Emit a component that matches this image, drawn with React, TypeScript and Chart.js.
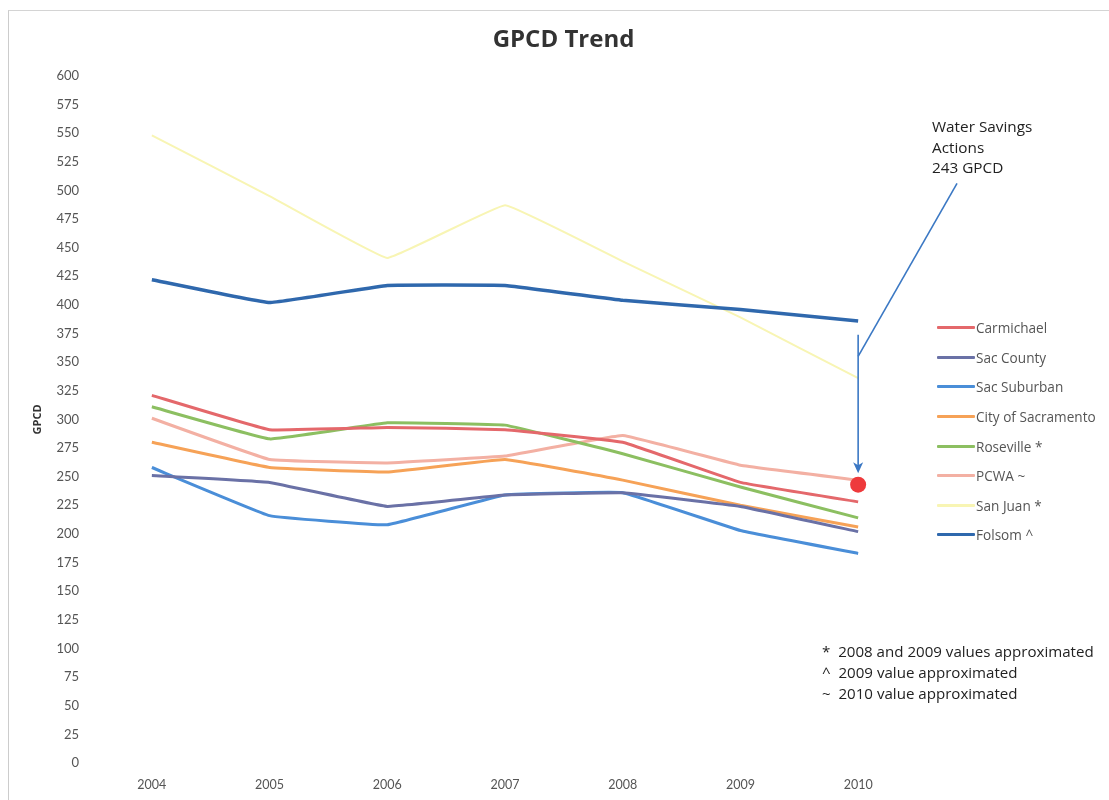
import React, { useEffect, useRef } from "react";
import { Chart, registerables } from "chart.js";

Chart.register(...registerables);

const years = ["2004", "2005", "2006", "2007", "2008", "2009", "2010"];

const carmichael = [321, 291, 293, 291, 280, 245, 228];
const sacCounty = [251, 245, 224, 234, 236, 224, 202];
const sacSuburban = [258, 216, 208, 234, 236, 203, 183];
const cityOfSacramento = [280, 258, 254, 265, 247, 225, 206];
const roseville = [311, 283, 297, 295, 270, 241, 214];
const pcwa = [301, 265, 262, 268, 286, 260, 247];
const sanJuan = [548, 495, 441, 487, 438, 389, 336];
const folsom = [422, 402, 417, 417, 404, 396, 386];

const targetValue = 243;
const targetIndex = 6;

const seriesNames = [
  "Carmichael",
  "Sac County",
  "Sac Suburban",
  "City of Sacramento",
  "Roseville *",
  "PCWA ~",
  "San Juan *",
  "Folsom ^",
];
const seriesData = [carmichael, sacCounty, sacSuburban, cityOfSacramento, roseville, pcwa, sanJuan, folsom];
const seriesColors = ["#e4686b", "#6a71a6", "#4a8ed8", "#f6a257", "#8cbf61", "#f3b0a3", "#f8f5b4", "#2f68ad"];
const seriesWidths = [3, 3, 3, 3, 3, 3, 2, 3.5];

const yTicksMin = 0;
const yTicksMax = 600;
const yTicksStep = 25;

const annotationLines = ["Water Savings", "Actions", "243 GPCD"];
const footnotes = [
  "*  2008 and 2009 values approximated",
  "^  2009 value approximated",
  "~  2010 value approximated",
];

// annotation arrow anchors (in data units)
const arrowTopValue = 374;
const arrowTipValue = 253;
const elbowValue = 355;
const diagTopValue = 506;
const diagTopIndex = 6.84;

const arrowPlugin = {
  id: "arrowPlugin",
  afterDatasetsDraw(chart: any) {
    const { ctx, scales } = chart;
    const xs = scales.x;
    const ys = scales.y;
    const x = xs.getPixelForValue(targetIndex);
    const yTop = ys.getPixelForValue(arrowTopValue);
    const yTip = ys.getPixelForValue(arrowTipValue);
    const yElbow = ys.getPixelForValue(elbowValue);
    const xD = xs.getPixelForValue(diagTopIndex);
    const yD = ys.getPixelForValue(diagTopValue);
    ctx.save();
    ctx.strokeStyle = "#3b78c4";
    ctx.fillStyle = "#3b78c4";
    ctx.lineWidth = 1.6;
    ctx.beginPath();
    ctx.moveTo(x, yTop);
    ctx.lineTo(x, yTip - 6);
    ctx.stroke();
    ctx.beginPath();
    ctx.moveTo(xD, yD);
    ctx.lineTo(x, yElbow);
    ctx.stroke();
    ctx.beginPath();
    ctx.moveTo(x, yTip);
    ctx.lineTo(x - 5, yTip - 11);
    ctx.lineTo(x, yTip - 8);
    ctx.lineTo(x + 5, yTip - 11);
    ctx.closePath();
    ctx.fill();
    ctx.restore();
  },
};

export default function App() {
  const ref = useRef<HTMLCanvasElement>(null);

  useEffect(() => {
    if (!ref.current) return;
    const datasets: any[] = seriesNames.map((name, i) => ({
      label: name,
      data: seriesData[i],
      borderColor: seriesColors[i],
      backgroundColor: seriesColors[i],
      borderWidth: seriesWidths[i],
      pointRadius: 0,
      tension: 0.07,
      order: 1 + (i === 7 ? 0 : 1),
    }));
    datasets.push({
      label: "target",
      data: years.map((_, i) => (i === targetIndex ? targetValue : null)),
      borderColor: "#ee3a3c",
      backgroundColor: "#ee3a3c",
      pointRadius: 8,
      pointBorderWidth: 0,
      showLine: false,
      order: 0,
    });
    const chart = new Chart(ref.current, {
      type: "line",
      data: { labels: years, datasets },
      plugins: [arrowPlugin],
      options: {
        animation: false,
        responsive: false,
        maintainAspectRatio: false,
        layout: { padding: { left: 18, right: 0, top: 0, bottom: 9 } },
        plugins: {
          legend: { display: false },
          tooltip: { enabled: false },
          title: {
            display: true,
            text: "GPCD Trend",
            color: "#333333",
            font: { family: "Open Sans", size: 24, weight: "bold" },
            padding: { top: 26, bottom: 21 },
          },
        },
        scales: {
          x: {
            type: "category",
            offset: true,
            grid: { display: false, drawTicks: false },
            border: { display: false },
            ticks: {
              color: "#555555",
              font: { family: "Lato", size: 12.5 },
              padding: 14,
              maxRotation: 0,
            },
            afterFit(scale: any) {
              scale.height = 28;
            },
          },
          y: {
            min: yTicksMin,
            max: yTicksMax,
            grid: { display: false, drawTicks: false },
            border: { display: false },
            ticks: {
              stepSize: yTicksStep,
              color: "#555555",
              font: { family: "Lato", size: 13 },
              padding: 14,
            },
            title: {
              display: true,
              text: "GPCD",
              color: "#333333",
              font: { family: "Open Sans", size: 11, weight: "bold" },
              padding: { top: 13, bottom: 0 },
            },
            afterFit(scale: any) {
              scale.width = 75;
            },
          },
          y2: {
            position: "right",
            display: true,
            grid: { display: false, drawTicks: false },
            border: { display: false },
            ticks: { display: false },
            afterFit(scale: any) {
              scale.width = 192;
            },
          },
        },
      },
    } as any);
    return () => chart.destroy();
  }, []);

  return (
    <div style={{ position: "fixed", left: 0, top: 0, width: 1109, height: 800, background: "#fff" }}>
      <div
        style={{
          position: "absolute",
          left: 8,
          top: 10,
          width: 1101,
          height: 790,
          borderLeft: "1px solid #cccccc",
          borderTop: "1px solid #d4d4d4",
        }}
      />
      <canvas ref={ref} width={1109} height={800} style={{ position: "absolute", left: 0, top: 0 }} />
      <div
        style={{
          position: "absolute",
          left: 932,
          top: 116,
          fontFamily: "Open Sans",
          fontSize: 15.3,
          lineHeight: "20.5px",
          color: "#222",
        }}
      >
        {annotationLines.map((t) => (
          <div key={t}>{t}</div>
        ))}
      </div>
      <div style={{ position: "absolute", left: 937, top: 313 }}>
        {seriesNames.map((name, i) => (
          <div key={name} style={{ display: "flex", alignItems: "center", height: 29.6 }}>
            <div style={{ width: 38, height: 3, background: seriesColors[i], borderRadius: 1 }} />
            <span
              style={{
                fontFamily: "Open Sans",
                fontSize: 13.6,
                color: "#555",
                marginLeft: 1,
                whiteSpace: "nowrap",
              }}
            >
              {name}
            </span>
          </div>
        ))}
      </div>
      <div
        style={{
          position: "absolute",
          left: 822,
          top: 641,
          fontFamily: "Open Sans",
          fontSize: 15.1,
          lineHeight: "21px",
          color: "#222",
          whiteSpace: "pre",
        }}
      >
        {footnotes.map((t) => (
          <div key={t}>{t}</div>
        ))}
      </div>
    </div>
  );
}
